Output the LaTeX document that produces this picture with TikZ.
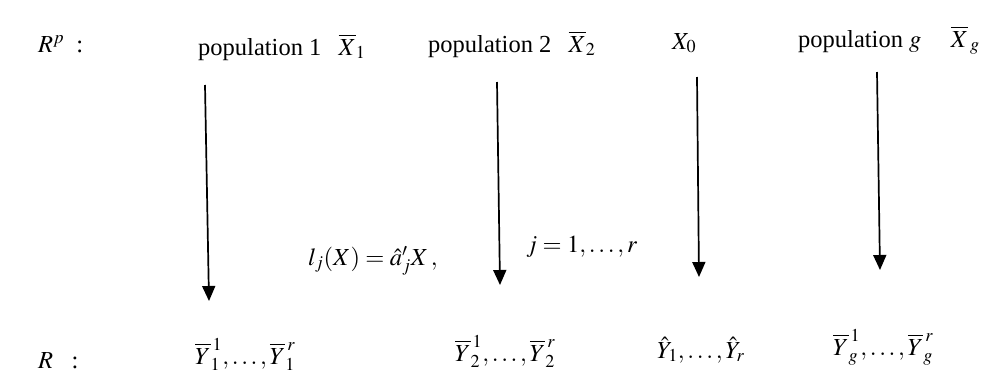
\documentclass[tikz,border=0pt]{standalone}
\usepackage{mathptmx}
\usepackage{fontspec}
\setmainfont{Liberation Serif}
\usetikzlibrary{arrows.meta}
\begin{document}
\begin{tikzpicture}[x=1pt,y=-1pt,
  lbl/.style={inner sep=0pt, font=\fontsize{24.5}{29}\selectfont},
  arr/.style={line width=1.7pt, -{Triangle[width=13pt,length=15pt]}}]
\useasboundingbox (0,0) rectangle (993,389);
% top row
\node[lbl,anchor=base west] (Rp) at (38,52) {$R^{p}$\ \ :};
\node[lbl,anchor=base west] (p1) at (198,55) {population 1\hspace{0.7em}$\overline{X}_{1}$};
\node[lbl,anchor=base west] (p2) at (428,52) {population 2\hspace{0.7em}$\overline{X}_{2}$};
\node[lbl,anchor=base west] (x0) at (672,49) {$X_{0}$};
\node[lbl,anchor=base west] (pg) at (798,47) {population $g$\hspace{1.2em}$\overline{X}_{\,g}$};
% middle labels
\node[lbl,anchor=base west] (lj) at (308,265) {$l_{j}(X)=\hat{a}'_{j}X\,,$};
\node[lbl,anchor=base west] (jr) at (526,252) {$j=1,\ldots,r$};
% bottom row
\node[lbl,anchor=base west] (R) at (38,368) {$R$\ \ \ :};
\node[lbl,anchor=base west] (y1) at (195,364) {$\overline{Y}_{1}^{\,1},\ldots,\overline{Y}_{1}^{\,r}$};
\node[lbl,anchor=base west] (y2) at (455,361) {$\overline{Y}_{2}^{\,1},\ldots,\overline{Y}_{2}^{\,r}$};
\node[lbl,anchor=base west] (yh) at (657,358) {$\hat{Y}_{1},\ldots,\hat{Y}_{r}$};
\node[lbl,anchor=base west] (yg) at (833,355) {$\overline{Y}_{g}^{\,1},\ldots,\overline{Y}_{g}^{\,r}$};
% arrows
\coordinate (a1s) at (205,85);  \coordinate (a1e) at (209,301);
\coordinate (a2s) at (497,82);  \coordinate (a2e) at (500,285);
\coordinate (a3s) at (697,77);  \coordinate (a3e) at (699,277);
\coordinate (a4s) at (877,72);  \coordinate (a4e) at (880,270);
\draw[arr] (a1s) -- (a1e);
\draw[arr] (a2s) -- (a2e);
\draw[arr] (a3s) -- (a3e);
\draw[arr] (a4s) -- (a4e);
\end{tikzpicture}
\end{document}
